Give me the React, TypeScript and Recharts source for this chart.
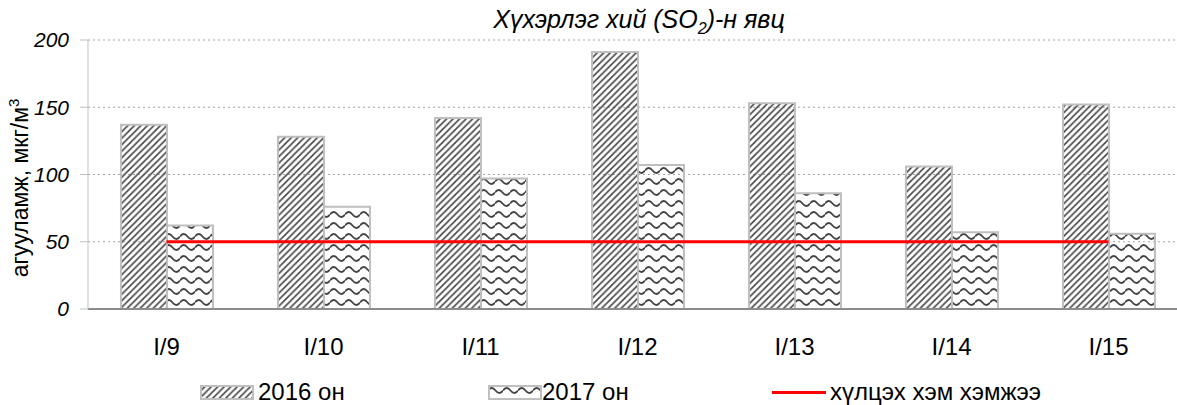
import { Bar, CartesianGrid, ComposedChart, Line, XAxis, YAxis } from "recharts";

const days = ["I/9", "I/10", "I/11", "I/12", "I/13", "I/14", "I/15"];
const so2in2016 = [137, 128, 142, 191, 153, 106, 152];
const so2in2017 = [62, 76, 97, 107, 86, 57, 56];
const limitValues = [50, 50, 50, 50, 50, 50, 50];
const yTicks = [0, 50, 100, 150, 200];

const data = days.map((day, i) => ({
  day,
  y2016: so2in2016[i],
  y2017: so2in2017[i],
  limit: limitValues[i],
}));

const font = "'Liberation Sans', Arial, sans-serif";

function YLabel() {
  return (
    <text
      x={28}
      y={188}
      transform="rotate(-90, 28, 188)"
      textAnchor="middle"
      fontSize={23}
      fontFamily={font}
      fill="#000"
    >
      агууламж, мкг/м
      <tspan dy={-9} fontSize={15}>
        3
      </tspan>
    </text>
  );
}

function Swatch({ fill }: { fill: string }) {
  return (
    <svg width={54} height={15} style={{ display: "block" }}>
      <rect x={1} y={1} width={52} height={13} fill={fill} stroke="#bfbfbf" strokeWidth={2} />
    </svg>
  );
}

export default function App() {
  const legendText: React.CSSProperties = {
    position: "absolute",
    top: 380,
    height: 24,
    fontSize: 24,
    lineHeight: "24px",
    whiteSpace: "nowrap",
  };
  return (
    <div
      style={{
        position: "fixed",
        left: 0,
        top: 0,
        width: 1177,
        height: 405,
        overflow: "hidden",
        background: "#fff",
        fontFamily: font,
      }}
    >
      <div
        style={{
          position: "absolute",
          left: 639,
          top: 5,
          transform: "translateX(-50%)",
          fontSize: 25,
          fontStyle: "italic",
          whiteSpace: "nowrap",
          lineHeight: "normal",
        }}
      >
        Хүхэрлэг хий (SO<sub style={{ fontSize: 16 }}>2</sub>)-н явц
      </div>
      <ComposedChart
        width={1200}
        height={405}
        data={data}
        margin={{ top: 40, right: 13, left: 0, bottom: 0 }}
        barCategoryGap="21%"
        barGap={0}
      >
        <defs>
          <pattern id="diag" width={6.5} height={6.5} patternUnits="userSpaceOnUse">
            <path
              d="M-1.625,1.625 L1.625,-1.625 M0,6.5 L6.5,0 M4.875,8.125 L8.125,4.875"
              stroke="#444"
              strokeWidth={1.6}
            />
          </pattern>
          <pattern id="wave" width={15} height={11} patternUnits="userSpaceOnUse">
            <path d="M0,5.5 Q3.75,0.5 7.5,5.5 T15,5.5" fill="none" stroke="#444" strokeWidth={1.8} />
          </pattern>
        </defs>
        <CartesianGrid vertical={false} stroke="#a6a6a6" strokeDasharray="2 3" />
        <XAxis
          dataKey="day"
          height={96}
          tickLine={false}
          tickSize={0}
          tickMargin={29}
          axisLine={{ stroke: "#8c8c8c", strokeWidth: 2 }}
          tick={{ fontSize: 24, fill: "#000", fontFamily: font }}
        />
        <YAxis
          width={88}
          domain={[0, 200]}
          ticks={yTicks}
          interval={0}
          tickSize={8}
          tickMargin={11}
          stroke="#bfbfbf"
          tick={{ fontSize: 21, fill: "#000", fontStyle: "italic", fontFamily: font }}
          label={{ content: () => <YLabel /> }}
        />
        <Bar dataKey="y2016" fill="url(#diag)" stroke="#bfbfbf" strokeWidth={2} isAnimationActive={false} />
        <Bar dataKey="y2017" fill="url(#wave)" stroke="#bfbfbf" strokeWidth={2} isAnimationActive={false} />
        <Line
          type="linear"
          dataKey="limit"
          stroke="#ff0000"
          strokeWidth={3}
          dot={false}
          activeDot={false}
          isAnimationActive={false}
        />
      </ComposedChart>
      <div style={{ position: "absolute", left: 200, top: 385 }}>
        <Swatch fill="url(#diag)" />
      </div>
      <div style={{ ...legendText, left: 258 }}>2016 он</div>
      <div style={{ position: "absolute", left: 488, top: 385 }}>
        <Swatch fill="url(#wave)" />
      </div>
      <div style={{ ...legendText, left: 542 }}>2017 он</div>
      <div style={{ position: "absolute", left: 772, top: 391, width: 54, height: 3, background: "#ff0000" }} />
      <div style={{ ...legendText, left: 830 }}>хүлцэх хэм хэмжээ</div>
    </div>
  );
}
